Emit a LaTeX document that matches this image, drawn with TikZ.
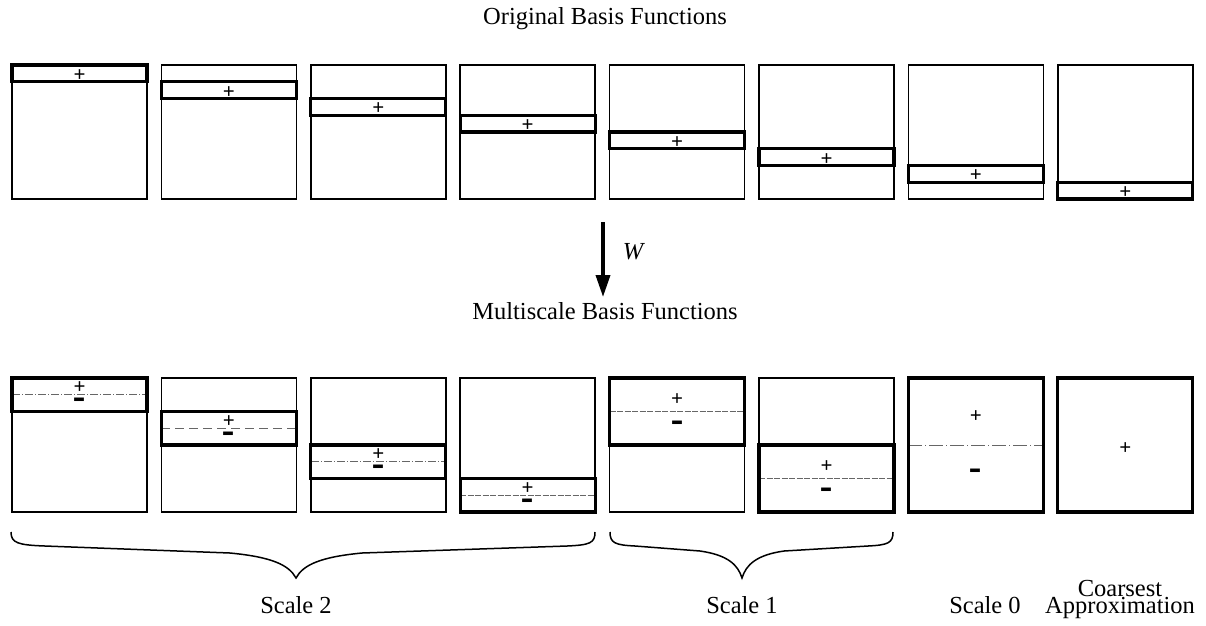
\documentclass[tikz,border=0pt]{standalone}
\usepackage{fontspec}
\usepackage{graphicx}
\setmainfont{Liberation Serif}
\usetikzlibrary{arrows.meta}
% signs are lowered so that their ink is centred on the baseline
\newcommand{\plussign}{\raisebox{-0.27em}{+}}
\newcommand{\minussign}{\scalebox{1}[2.4]{\raisebox{-0.255em}{−}}}
\begin{document}
\begin{tikzpicture}[x=1pt,y=-1pt,
  frame/.style={draw=black,line width=1.7pt},
  band/.style={draw=black,line width=3.2pt},
  heavy/.style={draw=black,line width=3.2pt},
  split/.style={draw=black!60,line width=0.7pt},
  splitA/.style={split,dash pattern=on 8pt off 2pt on 1pt off 2pt},
  splitB/.style={split,dash pattern=on 9pt off 5pt},
  splitC/.style={split,dash pattern=on 6pt off 1.5pt},
  splitD/.style={split,dash pattern=on 14pt off 3pt on 1pt off 3pt},
  sign/.style={inner sep=0pt,font=\fontsize{21}{21}\selectfont\bfseries,
    text height=5pt,text depth=5pt},
  minus/.style={inner sep=0pt,font=\fontsize{21}{21}\selectfont\bfseries,
    text height=2pt,text depth=2pt},
  caption/.style={font=\fontsize{24.5}{26}\selectfont},
  brace/.style={draw=black,line width=1.5pt}]
\useasboundingbox (0,0) rectangle (1206,625);
\def\W{135}\def\H{134}
% titles
\node[caption] (t1) at (605,19) {Original Basis Functions};
\node[caption] (t2) at (605,311) {Multiscale Basis Functions};
% top row: one band per square, stepping down by 1/8
\foreach \i in {0,...,7}{
  \pgfmathsetmacro{\xl}{12+149.4*\i}
  \pgfmathsetmacro{\ty}{65+\H/8*\i}
  \draw[frame] (\xl,65) rectangle ++(\W,\H);
  \draw[band] (\xl,\ty) rectangle ++(\W,\H/8);
  \node[sign] (p\i) at (\xl+\W/2,\ty+0.64*\H/8) {\plussign};
}
% transform arrow
\coordinate (wa) at (603,222);
\coordinate (wb) at (603,297);
\draw[line width=3.6pt,-{Triangle[length=22pt,width=14pt]}] (wa) -- (wb);
\node[font=\fontsize{24.5}{26}\selectfont\itshape] (wl) at (633,252) {W};
% bottom row
\def\yb{378}
% scale 2: four bands of 1/4
\foreach \i/\pat in {0/splitA,1/splitB,2/splitA,3/splitC}{
  \pgfmathsetmacro{\xl}{12+149.4*\i}
  \pgfmathsetmacro{\ty}{\yb+\H/4*\i}
  \draw[frame] (\xl,\yb) rectangle ++(\W,\H);
  \draw[\pat] (\xl,\ty+\H/8) -- ++(\W,0);
  \draw[band] (\xl,\ty) rectangle ++(\W,\H/4);
  \node[sign] (q\i) at (\xl+\W/2,\ty+0.30*\H/4) {\plussign};
  \node[minus] (m\i) at (\xl+\W/2,\ty+0.78*\H/4) {\minussign};
}
% scale 1: two bands of 1/2
\foreach \i/\k in {4/0,5/1}{
  \pgfmathsetmacro{\xl}{12+149.4*\i}
  \pgfmathsetmacro{\ty}{\yb+\H/2*\k}
  \draw[frame] (\xl,\yb) rectangle ++(\W,\H);
  \draw[splitC] (\xl,\ty+\H/4) -- ++(\W,0);
  \draw[band] (\xl,\ty) rectangle ++(\W,\H/2);
  \node[sign] (q\i) at (\xl+\W/2,\ty+0.33*\H/2) {\plussign};
  \node[minus] (m\i) at (\xl+\W/2,\ty+0.73*\H/2) {\minussign};
}
% scale 0
\pgfmathsetmacro{\xs}{12+149.4*6}
\draw[splitD] (\xs,\yb+\H/2) -- ++(\W,0);
\draw[heavy] (\xs,\yb) rectangle ++(\W,\H);
\node[sign] (q6) at (\xs+\W/2,\yb+0.29*\H) {\plussign};
\node[minus] (m6) at (\xs+\W/2,\yb+0.72*\H) {\minussign};
% coarsest approximation
\pgfmathsetmacro{\xc}{12+149.4*7}
\draw[heavy] (\xc,\yb) rectangle ++(\W,\H);
\node[sign] (q7) at (\xc+\W/2,\yb+0.53*\H) {\plussign};
% braces
\draw[brace] (11,532) .. controls (11,543) and (18,545) .. (45,546)
  -- (230,553) .. controls (272,557) and (289,565) .. (296,578)
  .. controls (303,565) and (320,557) .. (362,553)
  -- (567,546) .. controls (590,545) and (595,543) .. (595,532);
\draw[brace] (610,532) .. controls (610,543) and (615,545) .. (635,546)
  -- (700,551) .. controls (728,555) and (738,565) .. (742,578)
  .. controls (746,565) and (756,555) .. (784,551)
  -- (868,546) .. controls (888,545) and (893,543) .. (893,532);
% scale labels
\node[caption,anchor=base] (s2) at (296,613) {Scale 2};
\node[caption,anchor=base] (s1) at (742,613) {Scale 1};
\node[caption,anchor=base] (s0) at (985,613) {Scale 0};
\node[caption,anchor=base,inner sep=0pt] (sc1) at (1120,596) {Coarsest};
\node[caption,anchor=base,inner sep=0pt] (sc2) at (1120,613) {Approximation};
\end{tikzpicture}
\end{document}
